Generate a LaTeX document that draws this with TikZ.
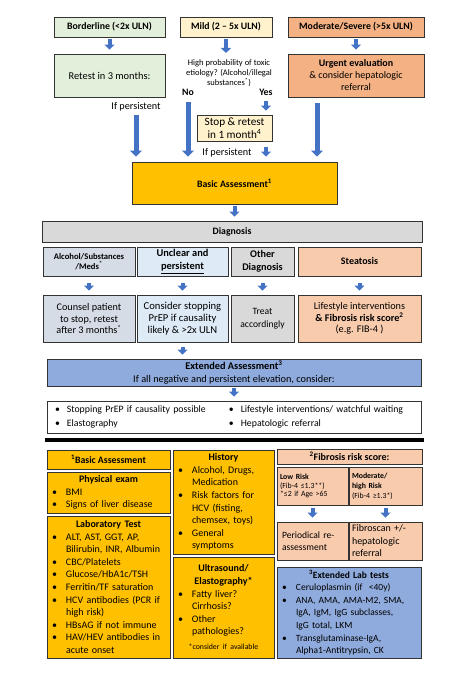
\documentclass[tikz,border=0pt]{standalone}
\usepackage{fontspec}
\setmainfont{Carlito}
\usetikzlibrary{arrows.meta, positioning, calc}

\definecolor{greenbox}{HTML}{E2EFDA}
\definecolor{yellowbox}{HTML}{FFF2CC}
\definecolor{orangebox}{HTML}{F4B183}
\definecolor{gold}{HTML}{FFC000}
\definecolor{graybox}{HTML}{D9D9D9}
\definecolor{slatebox}{HTML}{D6DCE5}
\definecolor{lightblue}{HTML}{DEEBF7}
\definecolor{peach}{HTML}{F8CBAD}
\definecolor{bluebox}{HTML}{8FAADC}
\definecolor{arrowblue}{HTML}{4472C4}

% bullet line with hanging indent
\newcommand{\bitem}[1]{\noindent\hangindent=16pt\hangafter=1\makebox[16pt][l]{\hspace{2pt}\textbullet}#1\par}

\begin{document}
\begin{tikzpicture}[x=1pt, y=-1pt,
    box/.style={rectangle, draw=black!80, line width=0.9pt, align=center, inner sep=1pt},
    txt/.style={font=\fontsize{10.2}{12.5}\selectfont},
    head/.style={font=\bfseries\fontsize{9.8}{12}\selectfont},
    listbox/.style={box, align=left, inner xsep=3pt, inner ysep=1pt, font=\fontsize{10}{12.6}\selectfont},
    arrow/.style={draw=arrowblue, line width=4pt, -{Triangle[length=5pt, width=10pt]}, shorten <=2pt, shorten >=4pt},
    bigarrow/.style={draw=arrowblue, line width=5pt, -{Triangle[length=6pt, width=12pt]}, shorten >=5pt}
]
\useasboundingbox (0,0) rectangle (469,678);

% Define nodes: severity
\node[box, head, fill=greenbox, minimum width=111pt, minimum height=20pt] (border) at (109.5,27) {Borderline (<2x ULN)};
\node[box, head, fill=yellowbox, minimum width=92pt, minimum height=20pt] (mild) at (226,27) {Mild (2 – 5x ULN)};
\node[box, head, fill=orangebox, minimum width=136pt, minimum height=20pt] (moderate) at (356,27) {Moderate/Severe (>5x ULN)};

\node[box, fill=greenbox, minimum width=111pt, minimum height=43pt, font=\fontsize{10.4}{12.5}\selectfont] (retest) at (109.5,75.5) {Retest in 3 months:};
\node[align=center, inner sep=0pt, font=\fontsize{8.5}{10.3}\selectfont] (toxic) at (229,73) {High probability of toxic\\etiology? (Alcohol/illegal\\substances\textsuperscript{*})};
\node[head] (no) at (188,92) {No};
\node[head] (yes) at (266,92) {Yes};
\node[box, fill=orangebox, minimum width=136pt, minimum height=43pt, font=\fontsize{10}{12}\selectfont] (urgent) at (356,75.5) {\textbf{Urgent evaluation}\\\& consider hepatologic\\referral};

\node[box, fill=yellowbox, minimum width=75pt, minimum height=26pt, font=\fontsize{11.2}{13}\selectfont] (stop) at (234.5,128) {Stop \& retest\\in 1 month\textsuperscript{4}};
\node[txt] (persistA) at (136,107) {If persistent};
\node[txt] (persistB) at (227,153) {If persistent};

% Assessment and diagnosis
\node[box, head, fill=gold, minimum width=205pt, minimum height=42pt] (basic) at (234.5,183) {Basic Assessment\textsuperscript{1}};
\node[box, head, fill=graybox, minimum width=380pt, minimum height=21pt] (diag) at (232,231.5) {Diagnosis};

\node[box, fill=slatebox, minimum width=92pt, minimum height=29pt, font=\bfseries\fontsize{8.6}{10.5}\selectfont] (alcohol) at (89,261.5) {Alcohol/Substances\\/Meds\textsuperscript{*}};
\node[box, fill=lightblue, minimum width=91pt, minimum height=29pt, font=\bfseries\fontsize{10.4}{13}\selectfont] (unclear) at (182.5,261.5) {Unclear and\\\underline{persistent}};
\node[box, fill=graybox, minimum width=63pt, minimum height=29pt, font=\bfseries\fontsize{10.2}{12.5}\selectfont] (other) at (262.5,261.5) {Other\\Diagnosis};
\node[box, fill=peach, minimum width=123pt, minimum height=29pt, font=\bfseries\fontsize{10}{12}\selectfont] (steatosis) at (359.5,261.5) {Steatosis};

\node[box, fill=slatebox, minimum width=92pt, minimum height=47pt, font=\fontsize{10.2}{11.8}\selectfont] (counsel) at (89,318.5) {Counsel patient\\to stop, retest\\after 3 months\textsuperscript{*}};
\node[box, fill=lightblue, minimum width=91pt, minimum height=47pt, font=\fontsize{10.6}{11.8}\selectfont] (consider) at (182.5,318.5) {Consider stopping\\PrEP if causality\\likely \& >2x ULN};
\node[box, fill=graybox, minimum width=63pt, minimum height=47pt, font=\fontsize{9.6}{12.5}\selectfont] (treat) at (262.5,318.5) {Treat\\accordingly};
\node[box, fill=peach, minimum width=123pt, minimum height=47pt, font=\fontsize{10.2}{11.8}\selectfont] (lifestyle) at (359.5,318.5) {Lifestyle interventions\\\textbf{\& Fibrosis risk score\textsuperscript{2}}\\(e.g. FIB-4 )};

\node[box, fill=bluebox, minimum width=374pt, minimum height=27pt, font=\fontsize{10.3}{12.6}\selectfont] (extended) at (234,372.5) {\textbf{Extended Assessment\textsuperscript{3}}\\If all negative and persistent elevation, consider:};
\node[box, fill=white, inner xsep=0pt, text width=374pt, minimum height=32pt, align=left, font=\fontsize{9.8}{14}\selectfont] (options) at (234,417) {%
  \begin{tabular}{@{\hspace{8pt}}p{174pt}@{}p{192pt}@{}}
  \textbullet\hspace{7pt}Stopping PrEP if causality possible & \textbullet\hspace{7pt}Lifestyle interventions/ watchful waiting\\
  \textbullet\hspace{7pt}Elastography & \textbullet\hspace{7pt}Hepatologic referral
  \end{tabular}};

% Separator
\draw[line width=4pt] (45,440) -- (424,440);

% Footnote boxes
\node[box, head, fill=gold, minimum width=123pt, minimum height=19pt] (basichead) at (108.5,459.5) {\textsuperscript{1}Basic Assessment};
\node[listbox, fill=gold, text width=117pt, minimum height=41pt] (physical) at (108.5,492.5) {%
  {\centering\textbf{Physical exam}\par}
  \bitem{BMI}
  \bitem{Signs of liver disease}};
\node[listbox, fill=gold, text width=117pt, minimum height=142pt] (lab) at (108.5,587) {%
  {\centering\textbf{Laboratory Test}\par}
  \bitem{ALT, AST, GGT, AP,\newline Bilirubin, INR, Albumin}
  \bitem{CBC/Platelets}
  \bitem{Glucose/HbA1c/TSH}
  \bitem{Ferritin/TF saturation}
  \bitem{HCV antibodies (PCR if\newline high risk)}
  \bitem{HBsAG if not immune}
  \bitem{HAV/HEV antibodies in\newline acute onset}};

\node[listbox, fill=gold, text width=95pt, minimum height=104pt] (history) at (223.5,502) {%
  {\centering\textbf{History}\par}
  \bitem{Alcohol, Drugs,\newline Medication}
  \bitem{Risk factors for\newline HCV (fisting,\newline chemsex, toys)}
  \bitem{General\newline symptoms}};
\node[listbox, fill=gold, text width=95pt, minimum height=101pt] (ultra) at (223.5,607.5) {%
  {\centering\textbf{Ultrasound/\\Elastography*}\par}
  \bitem{Fatty liver?\newline Cirrhosis?}
  \bitem{Other\newline pathologies?}
  \vspace{6pt}{\centering\fontsize{7.8}{9}\selectfont *consider if available\par}};

\node[box, head, fill=peach, minimum width=145pt, minimum height=15pt, font=\bfseries\fontsize{10}{12}\selectfont] (fibhead) at (349.5,456.5) {\textsuperscript{2}Fibrosis risk score:};
\node[box, fill=peach, align=left, inner xsep=3pt, text width=65pt, minimum height=38pt, font=\fontsize{7.8}{8.3}\selectfont] (lowrisk) at (312.5,486) {\textbf{Low Risk}\\(Fib-4 ≤1.3**)\\{}*≤2 if Age >65};
\node[box, fill=peach, align=left, inner xsep=3pt, text width=67pt, minimum height=38pt, font=\fontsize{7.8}{10}\selectfont] (highrisk) at (385.5,486) {\textbf{Moderate/}\\\textbf{high Risk}\\(Fib-4 ≥1.3*)};
\node[box, fill=peach, align=left, inner xsep=5pt, text width=61pt, minimum height=38pt, font=\fontsize{9.6}{12}\selectfont] (periodic) at (312.5,541) {Periodical re-\\assessment};
\node[box, fill=peach, align=left, inner xsep=3pt, text width=67pt, minimum height=38pt, font=\fontsize{10}{12.5}\selectfont] (fibroscan) at (385.5,541) {Fibroscan +/-\\hepatologic\\referral};

\node[listbox, fill=bluebox, text width=138pt, minimum height=91pt, font=\fontsize{9.5}{12.6}\selectfont] (extlab) at (349,612.5) {%
  {\centering\textbf{\textsuperscript{3}Extended Lab tests}\par}
  \bitem{Ceruloplasmin (if~ <40y)}
  \bitem{ANA, AMA, AMA-M2, SMA,\newline IgA, IgM, IgG subclasses,\newline IgG total, LKM}
  \bitem{Transglutaminase-IgA,\newline Alpha1-Antitrypsin, CK}};

% Draw arrows
\draw[arrow] (border) -- (retest);
\draw[arrow, shorten >=6pt] (mild.south) -- (mild.south |- toxic.north);
\draw[arrow] (moderate) -- (urgent);
\draw[arrow] (yes.south) -- (yes.south |- stop.north);
\draw[arrow, shorten <=6pt, shorten >=5pt] (stop.south -| yes.south) -- (yes.south |- basic.north);

\draw[bigarrow] (persistA.south) -- (persistA.south |- basic.north);
\draw[bigarrow, shorten <=3pt] (no.south) -- (no.south |- basic.north);
\coordinate (urgentout) at ([xshift=-39pt]urgent.south);
\draw[bigarrow, shorten <=6pt] (urgentout) -- (urgentout |- basic.north);

\draw[arrow] (basic.south) -- (basic.south |- diag.north);
\draw[arrow, shorten <=7pt, shorten >=4pt] (alcohol) -- (counsel);
\draw[arrow, shorten <=7pt, shorten >=4pt] (unclear) -- (consider);
\draw[arrow, shorten <=7pt, shorten >=4pt] (other) -- (treat);
\draw[arrow, shorten <=7pt, shorten >=4pt] (steatosis) -- (lifestyle);
\draw[arrow, shorten <=5pt] (consider.south) -- (consider.south |- extended.north);
\draw[arrow] (extended) -- (options);

\draw[arrow, shorten <=3pt] (lowrisk) -- (periodic);
\draw[arrow, shorten <=3pt] (highrisk) -- (fibroscan);

\end{tikzpicture}
\end{document}
